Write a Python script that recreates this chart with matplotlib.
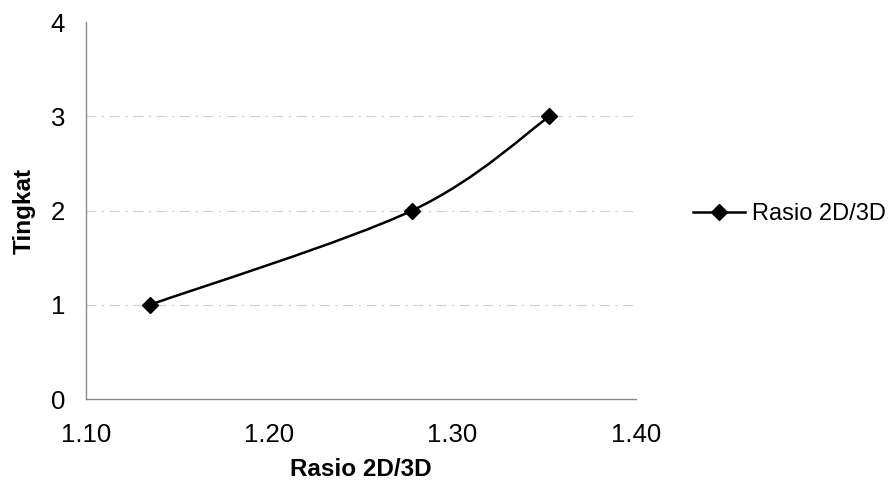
import matplotlib
matplotlib.use("Agg")
import matplotlib.pyplot as plt
import numpy as np
from matplotlib.path import Path
from matplotlib.patches import PathPatch
from matplotlib.lines import Line2D

plt.rcParams["font.family"] = ["Liberation Sans", "DejaVu Sans"]

# data
rasio = [1.135, 1.278, 1.353]
tingkat = [1, 2, 3]
series_name = "Rasio 2D/3D"
x_ticks = [1.10, 1.20, 1.30, 1.40]
y_ticks = [0, 1, 2, 3, 4]


def smooth_path(xs, ys, sx, sy):
    # Excel-style smoothed line: Catmull-Rom segments as cubic Beziers,
    # computed in axis-normalised space so the bend does not depend on units
    p = np.column_stack([np.asarray(xs) / sx, np.asarray(ys) / sy])
    n = len(p)
    verts = [p[0]]
    codes = [Path.MOVETO]
    for i in range(n - 1):
        p0 = p[i - 1] if i > 0 else p[i]
        p3 = p[i + 2] if i + 2 < n else p[i + 1]
        c1 = p[i] + (p[i + 1] - p0) / 6
        c2 = p[i + 1] - (p3 - p[i]) / 6
        verts += [c1, c2, p[i + 1]]
        codes += [Path.CURVE4] * 3
    verts = np.array(verts) * [sx, sy]
    return Path(verts, codes)


fig = plt.figure(figsize=(8.94, 4.92), dpi=100)
ax = fig.add_axes([0.096, 0.189, 0.615, 0.766])

ax.set_xlim(1.10, 1.40)
ax.set_ylim(0, 4)

for y in y_ticks[1:-1]:
    ax.axhline(y, color="#cfcfcf", lw=0.8, ls=(0, (9, 5, 2, 5)), zorder=1)

path = smooth_path(rasio, tingkat, 0.30, 4.0)
ax.add_patch(PathPatch(path, facecolor="none", edgecolor="black", lw=1.8, zorder=3))
ax.plot(rasio, tingkat, ls="none", marker="D", ms=8, color="black", zorder=4)

ax.set_xticks(x_ticks)
ax.set_xticklabels([f"{v:.2f}" for v in x_ticks])
ax.set_yticks(y_ticks)
ax.tick_params(length=0, labelsize=18.5)
ax.tick_params(axis="x", pad=17)
ax.tick_params(axis="y", pad=15)

for side in ("top", "right"):
    ax.spines[side].set_visible(False)
ax.spines["left"].set_color("#8a8a8a")
ax.spines["bottom"].set_color("#8a8a8a")
ax.spines["left"].set_linewidth(1.0)
ax.spines["bottom"].set_linewidth(1.0)

ax.set_xlabel("Rasio 2D/3D", fontsize=17.5, fontweight="bold", labelpad=8.5)
ax.set_ylabel("Tingkat", fontsize=17.5, fontweight="bold", labelpad=11)

handle = Line2D([], [], color="black", lw=1.8, marker="D", ms=8)
fig.legend([handle], [series_name], loc="center left",
           bbox_to_anchor=(0.775, 0.565), frameon=False, fontsize=17,
           borderpad=0, borderaxespad=0,
           handlelength=2.2, handletextpad=0.3)

fig.savefig("out.png", dpi=100)
